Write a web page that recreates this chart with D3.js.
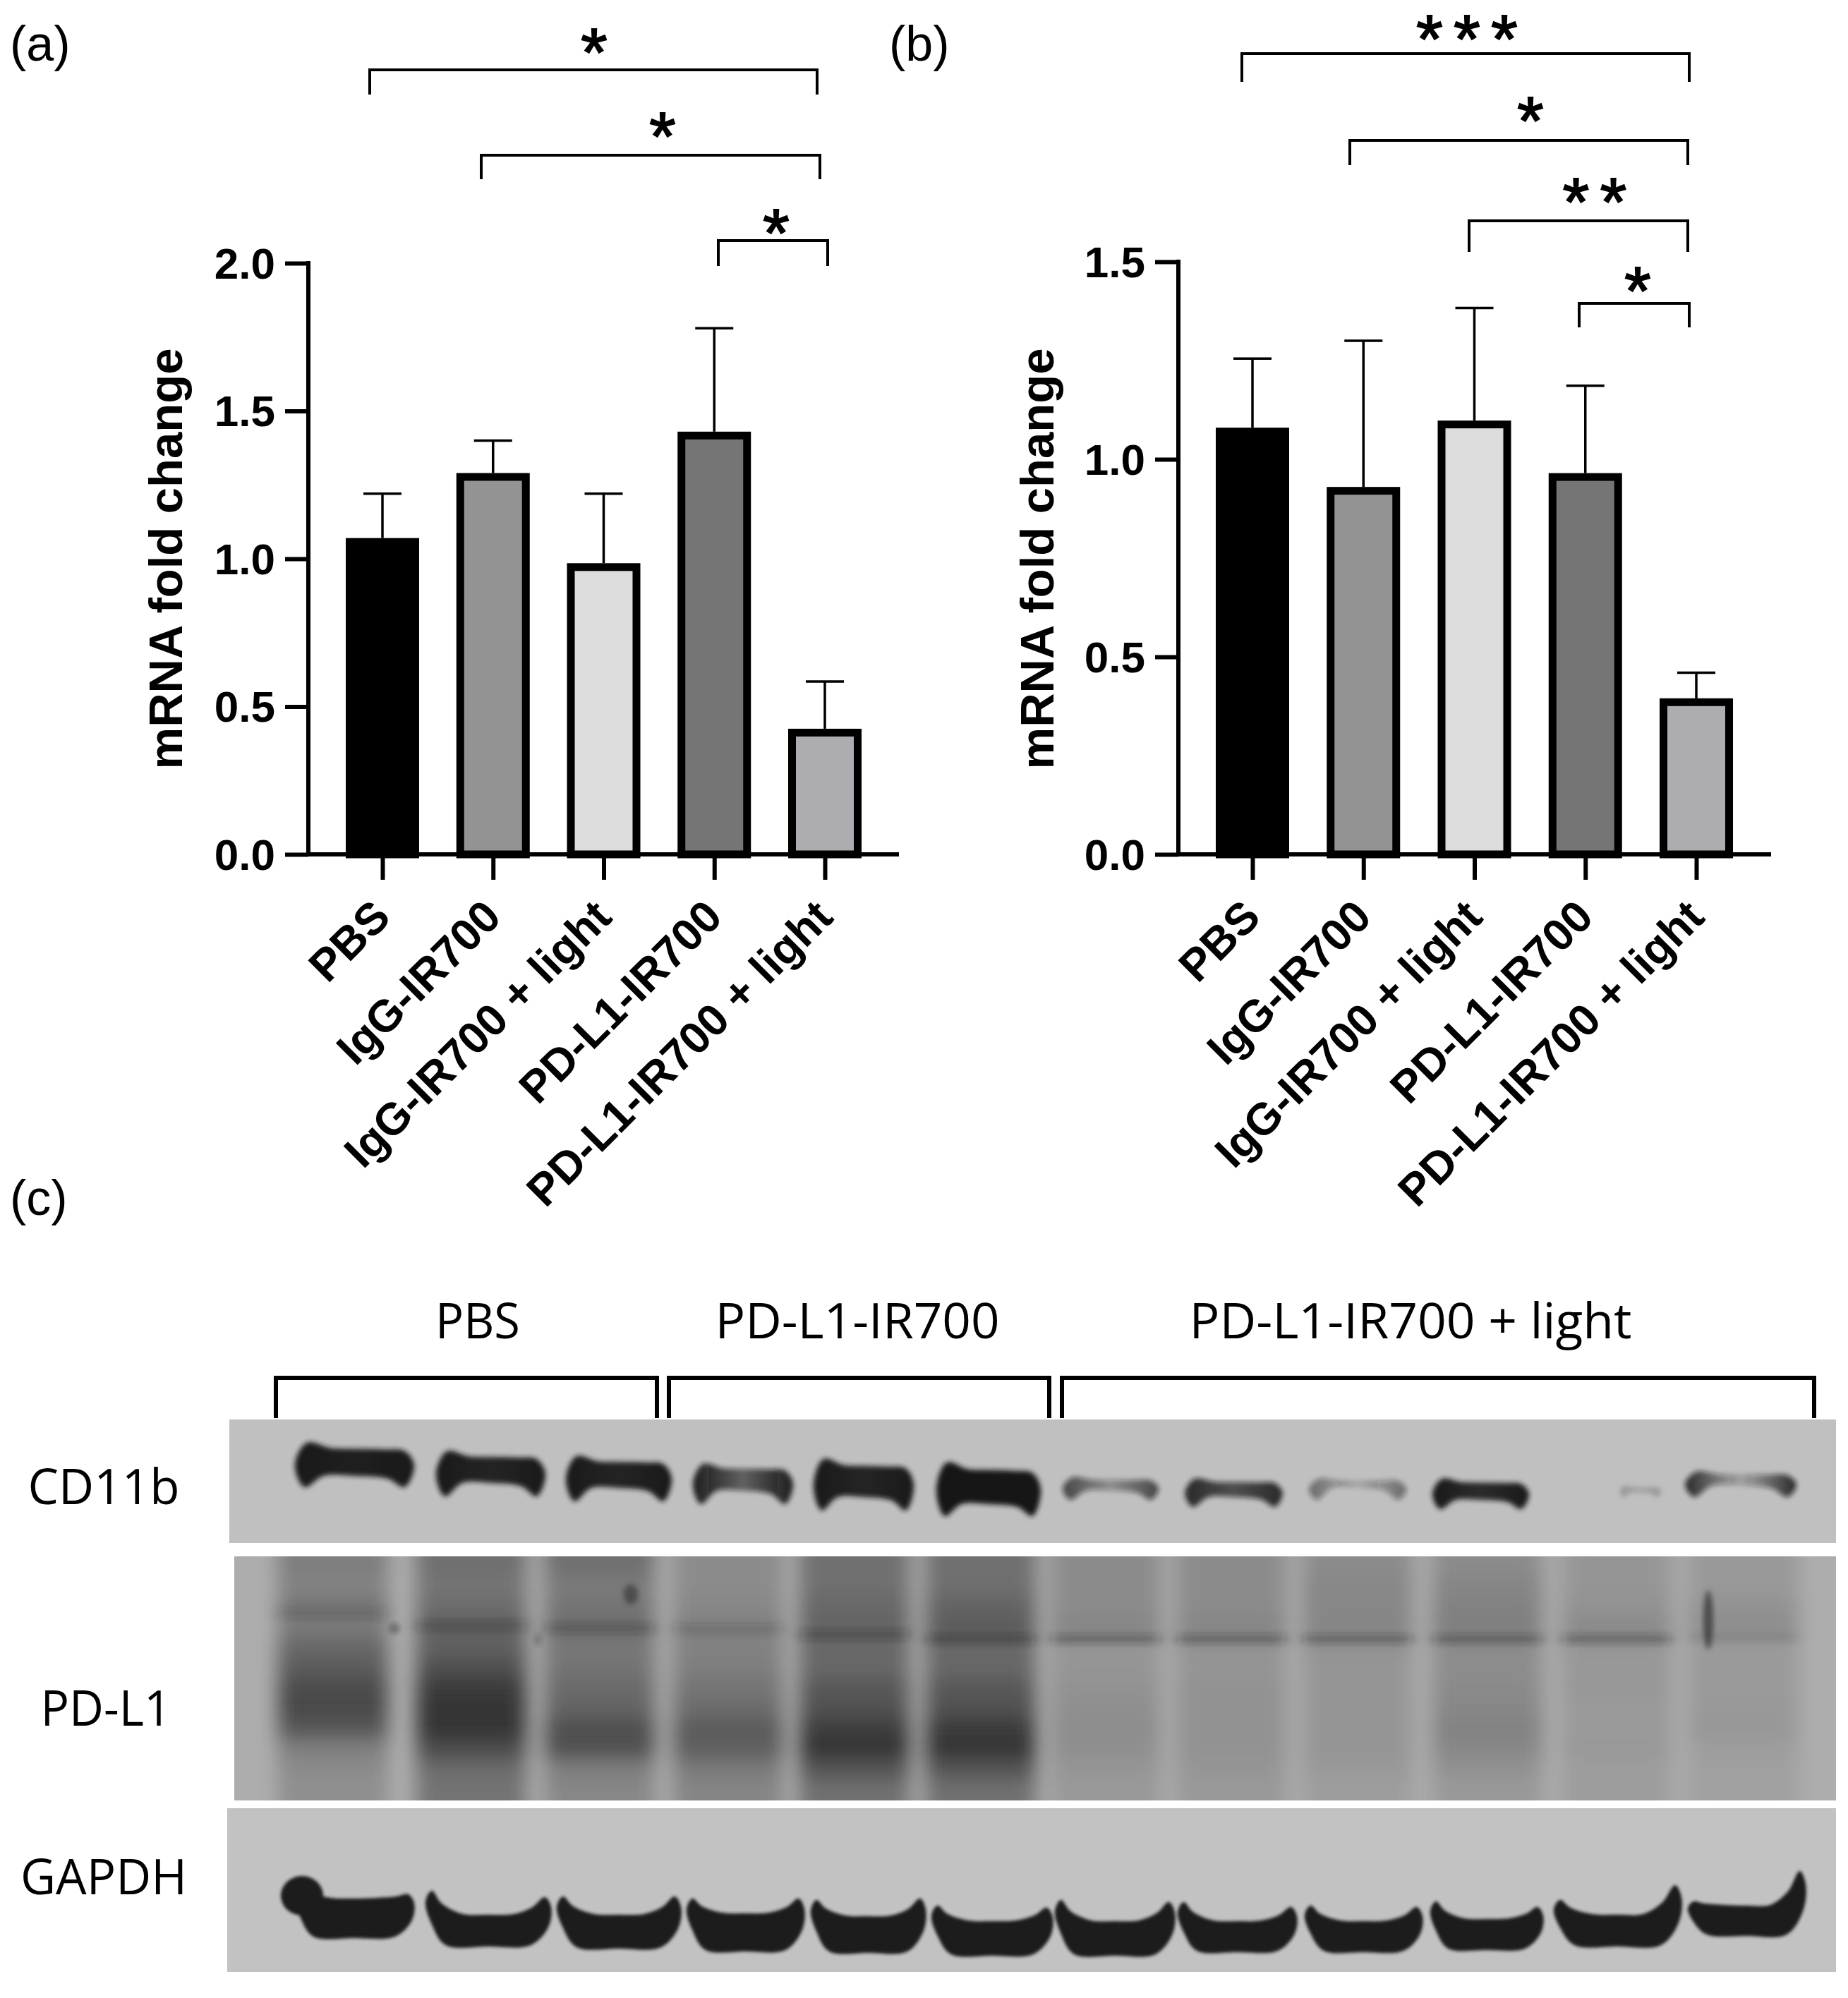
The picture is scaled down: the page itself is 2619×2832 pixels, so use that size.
<!DOCTYPE html>
<html>
<head>
<meta charset="utf-8">
<style>
  html, body { margin: 0; padding: 0; background: #fff; }
  svg { display: block; }
  .tick text { font-family: "Liberation Sans", Arial, sans-serif; font-weight: bold; fill: #000; }
  .lbl { font-family: "Open Sans", sans-serif; fill: #000; }
  .panel { font-family: "Liberation Sans", Arial, sans-serif; fill: #000; }
</style>
</head>
<body>
<svg id="fig" width="2619" height="2832"></svg>
<script src="https://cdn.jsdelivr.net/npm/d3@7"></script>
<script>
// ---- bar chart values
var groups = ["PBS", "IgG-IR700", "IgG-IR700 + light", "PD-L1-IR700", "PD-L1-IR700 + light"];
var barColors = ["#000000", "#939393", "#dcdcdc", "#757575", "#adadb1"];
var meanA = [1.07, 1.29, 0.985, 1.43, 0.425];
var upperA = [1.22, 1.40, 1.22, 1.78, 0.585];
var ticksA = [0, 0.5, 1, 1.5, 2];
var meanB = [1.08, 0.93, 1.098, 0.965, 0.395];
var upperB = [1.255, 1.30, 1.383, 1.186, 0.46];
var ticksB = [0, 0.5, 1, 1.5];
var starsA = ["*", "*", "*"];
var starsB = ["***", "*", "**", "*"];

// ---- blot readings, lanes 1-12. x in gel units, y in units from the top of each strip
var blotGroups = ["PBS", "PD-L1-IR700", "PD-L1-IR700 + light"];
var blotRows = ["CD11b", "PD-L1", "GAPDH"];
var cdLeft = [96, 296, 480, 660, 831, 1005, 1184, 1357, 1533, 1708, 1974, 2066];
var cdRight = [265, 451, 630, 802, 973, 1153, 1320, 1496, 1671, 1845, 2032, 2224];
var cdTop = [33, 45, 52, 63, 56, 61, 82, 84, 84, 84, 94, 74];
var cdMid = [80, 90, 97, 101, 110, 120, 101, 110, 97, 114, 104, 94];
var cdEnd = [96, 109, 116, 120, 129, 137, 114, 124, 114, 127, 110, 110];
var cdEdgeSignal = [98, 98, 98, 96, 98, 100, 70, 85, 50, 98, 22, 85];
var cdCentreSignal = [95, 92, 92, 55, 92, 100, 30, 65, 12, 88, 14, 15];

var pdCentre = [150, 346, 528, 710, 889, 1068, 1245, 1423, 1602, 1786, 1969, 2149];
var pdLane1 = [35, 31, 43, 38, 51, 60, 72, 74, 64, 34, 25, 22];
var pdLane2 = [46, 42, 48, 56, 56, 70, 85, 90, 90, 72, 48, 43];
var pdLane3 = [45, 38, 42, 48, 40, 43, 49, 55, 70, 68, 35, 28];
var pdLane4 = [25, 25, 28, 35, 32, 35, 42, 48, 60, 58, 38, 30];
var pdLane5 = [45, 45, 52, 55, 52, 52, 62, 68, 82, 88, 65, 45];
var pdLane6 = [45, 47, 55, 60, 52, 52, 62, 68, 85, 88, 65, 45];
var pdLane7 = [25, 25, 25, 30, 18, 18, 20, 22, 24, 22, 18, 15];
var pdLane8 = [25, 25, 25, 30, 20, 18, 20, 20, 20, 20, 18, 15];
var pdLane9 = [25, 28, 28, 30, 20, 18, 18, 18, 18, 18, 15, 12];
var pdLane10 = [25, 30, 32, 34, 25, 24, 26, 28, 32, 28, 20, 15];
var pdLane11 = [18, 18, 20, 26, 18, 15, 16, 14, 14, 15, 12, 12];
var pdLane12 = [15, 15, 20, 24, 14, 14, 14, 15, 16, 12, 10, 10];
var pdThin = [14, 22, 22, 14, 26, 30, 30, 30, 30, 30, 30, 8];
var pdThinY = [74, 91, 95, 96, 104, 110, 110, 110, 110, 110, 110, 108];

var gaLeft = [95, 281, 467, 651, 827, 998, 1173, 1347, 1527, 1705, 1880, 2070];
var gaRight = [265, 459, 643, 818, 990, 1170, 1343, 1516, 1694, 1865, 2061, 2237];
var gaBottom = [184, 196, 199, 203, 205, 209, 209, 204, 204, 201, 196, 181];
var gaMid = [127, 150, 150, 148, 152, 159, 159, 159, 159, 156, 150, 137];
var gaLeftTip = [110, 117, 125, 128, 130, 138, 130, 133, 138, 132, 130, 132];
var gaRightTip = [122, 126, 125, 128, 128, 141, 133, 140, 140, 140, 109, 89];

var svg = d3.select("#fig");
var defs = svg.append("defs");

function blur(id, s) {
  defs.append("filter").attr("id", id)
    .attr("x", "-30%").attr("y", "-30%").attr("width", "160%").attr("height", "160%")
    .append("feGaussianBlur").attr("stdDeviation", s);
}
blur("soft", "3.5");
blur("edge", "2");
blur("smear", "14 12");
blur("thin", "9 4");

// ---- bar panels
function barPanel(o) {
  var g = svg.append("g");
  var x = d3.scalePoint().domain(groups).range(o.xr);
  var y = d3.scaleLinear().domain([0, o.top]).range(o.yr);

  g.selectAll("rect.bar").data(groups).enter().append("rect")
    .attr("class", "bar")
    .attr("x", function(d) { return x(d) - 52 + 5.5; })
    .attr("width", 104 - 11)
    .attr("y", function(d, i) { return y(o.mean[i]) + 5.5; })
    .attr("height", function(d, i) { return y(0) - y(o.mean[i]) - 5.5; })
    .attr("fill", function(d, i) { return barColors[i]; })
    .attr("stroke", "#000").attr("stroke-width", 11);

  g.selectAll("line.err").data(groups).enter().append("line")
    .attr("class", "err")
    .attr("x1", function(d) { return x(d); }).attr("x2", function(d) { return x(d); })
    .attr("y1", function(d, i) { return y(o.mean[i]); })
    .attr("y2", function(d, i) { return y(o.upper[i]); })
    .attr("stroke", "#000").attr("stroke-width", 3.5);
  g.selectAll("line.cap").data(groups).enter().append("line")
    .attr("class", "cap")
    .attr("x1", function(d) { return x(d) - 27; }).attr("x2", function(d) { return x(d) + 27; })
    .attr("y1", function(d, i) { return y(o.upper[i]); })
    .attr("y2", function(d, i) { return y(o.upper[i]); })
    .attr("stroke", "#000").attr("stroke-width", 3.5);

  var ya = g.append("g").attr("transform", "translate(" + o.axisX + ",0)")
    .call(d3.axisLeft(y).tickValues(o.ticks).tickFormat(d3.format(".1f")).tickSize(33).tickPadding(14));
  ya.selectAll("text").style("font-size", "62px").attr("dy", "0.34em");
  ya.selectAll("line").attr("stroke", "#000").attr("stroke-width", 6);
  ya.select(".domain").attr("stroke", "#000").attr("stroke-width", 6).attr("d", "M0," + (o.yr[0] + 3) + "V" + (o.yr[1] - 3));

  var xa = g.append("g").attr("transform", "translate(0," + o.yr[0] + ")")
    .call(d3.axisBottom(x).tickSize(36).tickPadding(0));
  xa.select(".domain").attr("stroke", "#000").attr("stroke-width", 6)
    .attr("d", "M" + o.axisX + ",0H" + o.axisEnd);
  xa.selectAll("line").attr("stroke", "#000").attr("stroke-width", 6);
  xa.selectAll("text")
    .style("font-size", "63.5px").style("text-anchor", "end")
    .attr("dy", 0).attr("y", 0)
    .attr("transform", "translate(14,92) rotate(-45)");

  svg.append("text").attr("class", "yt")
    .attr("transform", "translate(" + o.ytX + "," + o.ytY + ") rotate(-90)")
    .attr("text-anchor", "middle")
    .style("font-family", "'Liberation Sans', Arial, sans-serif").style("font-weight", "bold")
    .style("font-size", "67px").text("mRNA fold change");

  // significance brackets
  o.brackets.forEach(function(b, i) {
    svg.append("path")
      .attr("d", "M" + b.x0 + "," + b.y1 + "V" + b.y0 + "H" + b.x1 + "V" + b.y1)
      .attr("fill", "none").attr("stroke", "#000").attr("stroke-width", 4);
    var st = o.stars[i];
    d3.range(st.length).forEach(function(k) {
      svg.append("text").attr("class", "star")
        .attr("x", b.sx + (k - (st.length - 1) / 2) * 53)
        .attr("y", b.sy + 45)
        .attr("text-anchor", "middle")
        .attr("stroke", "#000").attr("stroke-width", 2)
        .style("font-family", "'Liberation Sans', Arial, sans-serif")
        .style("font-size", "96px")
        .text(st[k]);
    });
  });
}

barPanel({
  mean: meanA, upper: upperA, ticks: ticksA, top: 2, stars: starsA,
  xr: [542, 1169], yr: [1211, 373], axisX: 437, axisEnd: 1274, ytX: 258, ytY: 792,
  brackets: [
    { x0: 524, x1: 1158, y0: 99, y1: 134, sx: 842, sy: 62 },
    { x0: 682, x1: 1162, y0: 220, y1: 254, sx: 939, sy: 181 },
    { x0: 1018, x1: 1173, y0: 341, y1: 377, sx: 1100, sy: 318 }
  ]
});
barPanel({
  mean: meanB, upper: upperB, ticks: ticksB, top: 1.5, stars: starsB,
  xr: [1775, 2404], yr: [1211, 371], axisX: 1670, axisEnd: 2510, ytX: 1493, ytY: 792,
  brackets: [
    { x0: 1760, x1: 2394, y0: 76, y1: 116, sx: 2079, sy: 43 },
    { x0: 1913, x1: 2392, y0: 199, y1: 234, sx: 2169, sy: 159 },
    { x0: 2082, x1: 2392, y0: 313, y1: 357, sx: 2260, sy: 274 },
    { x0: 2238, x1: 2394, y0: 430, y1: 464, sx: 2321, sy: 400 }
  ]
});

// panel letters
[["(a)", 14, 86], ["(b)", 1260, 86], ["(c)", 14, 1722]].forEach(function(p) {
  svg.append("text").attr("class", "panel").attr("x", p[1]).attr("y", p[2]).style("font-size", "70px").text(p[0]);
});

// ---- western blot strips
var gelX = d3.scaleLinear().domain([0, 2280]).range([322, 2602]);
var laneIdx = d3.range(12);
var line = d3.line().curve(d3.curveCatmullRomClosed.alpha(0.5));

function strip(id, left, top, bottom, bg) {
  defs.append("clipPath").attr("id", "clip-" + id).append("rect")
    .attr("x", left).attr("y", top).attr("width", gelX(2280) - left).attr("height", bottom - top);
  var g = svg.append("g").attr("clip-path", "url(#clip-" + id + ")");
  g.append("rect").attr("x", left).attr("y", top).attr("width", gelX(2280) - left).attr("height", bottom - top).attr("fill", bg);
  return { g: g, y: d3.scaleLinear().domain([0, bottom - top]).range([top, bottom]) };
}

// CD11b
var cd = strip("cd", 325, 2012, 2187, "#c0c0c0");
laneIdx.forEach(function(i) {
  var gr = defs.append("linearGradient").attr("id", "cd" + i);
  [[0, cdEdgeSignal[i]], [0.5, cdCentreSignal[i]], [1, cdEdgeSignal[i]]].forEach(function(s) {
    gr.append("stop").attr("offset", s[0]).attr("stop-color", "#141414").attr("stop-opacity", s[1] / 100);
  });
});
cd.g.append("g").attr("filter", "url(#soft)").selectAll("path").data(laneIdx).enter().append("path")
  .attr("fill", function(i) { return "url(#cd" + i + ")"; })
  .attr("d", function(i) {
    var l = cdLeft[i], r = cdRight[i], w = r - l, m = (l + r) / 2;
    var t = cdTop[i], b = cdMid[i], e = cdEnd[i];
    var pts = [
      [l, (t + e) / 2], [l + 0.1 * w, t], [l + 0.3 * w, t + (b - t) * 0.16], [m, t + (b - t) * 0.18],
      [r - 0.25 * w, t + (b - t) * 0.2], [r - 0.08 * w, t + (b - t) * 0.25], [r, (t + e) / 2],
      [r - 0.08 * w, e], [r - 0.22 * w, b + (e - b) * 0.25], [m, b], [l + 0.24 * w, b], [l + 0.08 * w, e]
    ];
    return line(pts.map(function(p) { return [gelX(p[0]), cd.y(p[1])]; }));
  });

// PD-L1 smears, rows run top to bottom of the strip
var pd = strip("pd", 332, 2206, 2552, "#adadad");
var pdRows = [pdLane1, pdLane2, pdLane3, pdLane4, pdLane5, pdLane6, pdLane7, pdLane8, pdLane9, pdLane10, pdLane11, pdLane12];
var signal = d3.scaleLinear().domain([0, 100]).range(["#adadad", "#262626"]);
var rowY = d3.scaleBand().domain(d3.range(12)).range([0, 346]);
var smear = pd.g.append("g").attr("filter", "url(#smear)");
pdRows.forEach(function(vals, i) {
  smear.selectAll("rect.l" + i).data(vals).enter().append("rect")
    .attr("class", "l" + i)
    .attr("x", gelX(pdCentre[i] - 78)).attr("width", 156)
    .attr("y", function(d, r) { return pd.y(rowY(r)) - (r == 0 ? 40 : 1); })
    .attr("height", function(d, r) { return rowY.bandwidth() + 2 + (r == 0 || r == 11 ? 40 : 0); })
    .attr("fill", function(d) { return signal(d); });
});
pd.g.append("g").attr("filter", "url(#thin)").selectAll("rect").data(pdThin).enter().append("rect")
  .attr("x", function(d, i) { return gelX(pdCentre[i] - 76); }).attr("width", 152)
  .attr("y", function(d, i) { return pd.y(pdThinY[i]); }).attr("height", 14)
  .attr("fill", "#222").attr("opacity", function(d) { return d / 100; });
// film marks: spots by lanes 1-3, streak in lane 12
[[572, 54, 10, 14, 0.6], [237, 102, 8, 8, 0.4], [440, 118, 6, 9, 0.25], [2099, 90, 7, 42, 0.7]].forEach(function(m) {
  pd.g.append("ellipse").attr("cx", gelX(m[0])).attr("cy", pd.y(m[1])).attr("rx", m[2]).attr("ry", m[3])
    .attr("fill", "#333").attr("opacity", m[4]).attr("filter", "url(#soft)");
});

// GAPDH
var ga = strip("ga", 322, 2563, 2795, "#c2c2c2");
var gaG = ga.g.append("g").attr("filter", "url(#edge)");
gaG.selectAll("path").data(laneIdx).enter().append("path")
  .attr("fill", "#1a1a1a")
  .attr("d", function(i) {
    var l = gaLeft[i], r = gaRight[i], w = r - l, m = (l + r) / 2;
    var lt = gaLeftTip[i], rt = gaRightTip[i], c = gaMid[i], b = gaBottom[i];
    var pts = [
      [l, lt + 0.2 * (b - lt)], [l + 0.05 * w, lt], [l + 0.13 * w, lt + (c - lt) * 0.55], [l + 0.3 * w, c],
      [m, c + 1], [r - 0.3 * w, c], [r - 0.15 * w, c - 0.4 * (c - rt)], [r - 0.05 * w, rt], [r, rt + 0.2 * (b - rt)],
      [r - 0.02 * w, rt + 0.6 * (b - rt)], [r - 0.16 * w, b - 2], [m, b], [l + 0.16 * w, b - 2], [l + 0.05 * w, lt + 0.6 * (b - lt)]
    ];
    return line(pts.map(function(p) { return [gelX(p[0]), ga.y(p[1])]; }));
  });
// lane 1 has a fat lobe on its left end
gaG.append("ellipse").attr("cx", gelX(106)).attr("cy", ga.y(124)).attr("rx", 30).attr("ry", 28).attr("fill", "#1a1a1a");

// group brackets + labels
var groupBoxes = [
  { x0: 391, x1: 931, tx: 677, len: 120 },
  { x0: 948, x1: 1487, tx: 1215, len: 403 },
  { x0: 1505, x1: 2571, tx: 1999, len: 627 }
];
groupBoxes.forEach(function(b, i) {
  svg.append("path").attr("d", "M" + b.x0 + ",2010V1953H" + b.x1 + "V2010")
    .attr("fill", "none").attr("stroke", "#000").attr("stroke-width", 6);
  svg.append("text").attr("class", "lbl")
    .attr("x", b.tx - b.len / 2).attr("y", 1897)
    .attr("textLength", b.len).attr("lengthAdjust", "spacingAndGlyphs")
    .style("font-size", "70px").text(blotGroups[i]);
});
var rowLabels = [{ cx: 147, y: 2132, len: 215 }, { cx: 150, y: 2446, len: 185 }, { cx: 147, y: 2685, len: 236 }];
rowLabels.forEach(function(r, i) {
  svg.append("text").attr("class", "lbl")
    .attr("x", r.cx - r.len / 2).attr("y", r.y)
    .attr("textLength", r.len).attr("lengthAdjust", "spacingAndGlyphs")
    .style("font-size", "70px").text(blotRows[i]);
});
</script>
</body>
</html>
